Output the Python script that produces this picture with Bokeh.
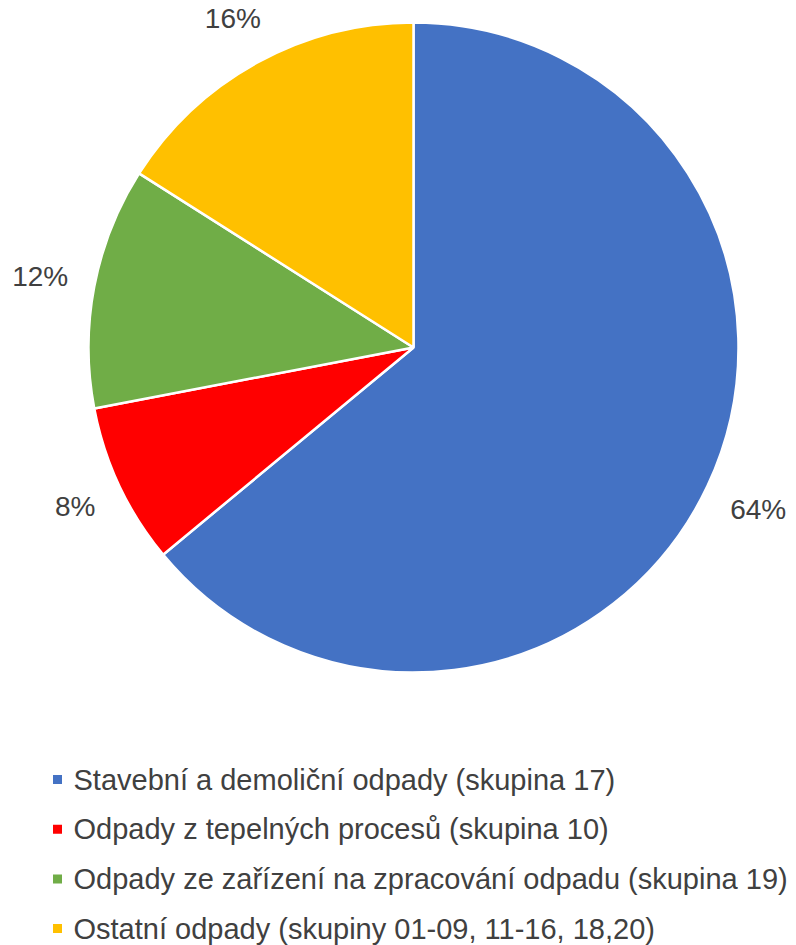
import math
from bokeh.plotting import figure
from bokeh.models import Range1d, ColumnDataSource
from bokeh.core.properties import value
from bokeh.embed import file_html
from bokeh.resources import INLINE

# ---- data ----
categories = [
    "Stavební a demoliční odpady (skupina 17)",
    "Odpady z tepelných procesů (skupina 10)",
    "Odpady ze zařízení na zpracování odpadu (skupina 19)",
    "Ostatní odpady (skupiny 01-09, 11-16, 18,20)",
]
shares = [64, 8, 12, 16]
pct_labels = ["64%", "8%", "12%", "16%"]
colors = ["#4472C4", "#FF0000", "#70AD47", "#FFC000"]

# ---- layout (pixel-like coordinates, y up) ----
W, H = 796, 945
CX, CY = 413, H - 347
R = 325
FONT = "Liberation Sans"
TXT = "#404040"
LBL_FS = 28
LEG_FS = 29

p = figure(width=W, height=H, output_backend="svg", toolbar_location=None,
           x_range=Range1d(0, W), y_range=Range1d(0, H), min_border=0,
           background_fill_color="white", border_fill_color="white")
p.axis.visible = False
p.grid.visible = False
p.outline_line_color = None

total = float(sum(shares))
a0 = math.pi / 2
starts, ends, mids = [], [], []
for s in shares:
    th = 2 * math.pi * s / total
    starts.append(a0 - th)
    ends.append(a0)
    mids.append(a0 - th / 2)
    a0 -= th

src = ColumnDataSource(dict(x=[CX] * len(shares), y=[CY] * len(shares),
                            start=starts, end=ends, color=colors))
p.wedge(x="x", y="y", radius=R, start_angle="start", end_angle="end",
        fill_color="color", line_color="white", line_width=2.5, source=src)

# percentage labels placed outside the slices
cw = {"%": 0.889}
lx, ly = [], []
for lab, m in zip(pct_labels, mids):
    w = sum(cw.get(c, 0.556) for c in lab) * LBL_FS
    hw, hh = w / 2, LBL_FS * 0.47
    c, s = math.cos(m), math.sin(m)
    ext = hw * abs(c) + hh * abs(s)
    d = R + 25 + ext
    lx.append(CX + d * c)
    ly.append(CY + d * s)
p.text(x=lx, y=ly, text=pct_labels, text_align="center", text_baseline="middle",
       text_font=value(FONT), text_font_size=f"{LBL_FS}px", text_color=TXT)

# legend
leg_y = [H - (779 + i * 49.7) for i in range(len(categories))]
p.scatter(x=[57] * len(categories), y=leg_y, marker="square", size=9,
          fill_color=colors, line_color=None)
p.text(x=[73] * len(categories), y=leg_y, text=categories, text_align="left",
       text_baseline="middle", text_font=value(FONT),
       text_font_size=f"{LEG_FS}px", text_color=TXT)

open("out.html", "w").write(file_html(p, INLINE))
